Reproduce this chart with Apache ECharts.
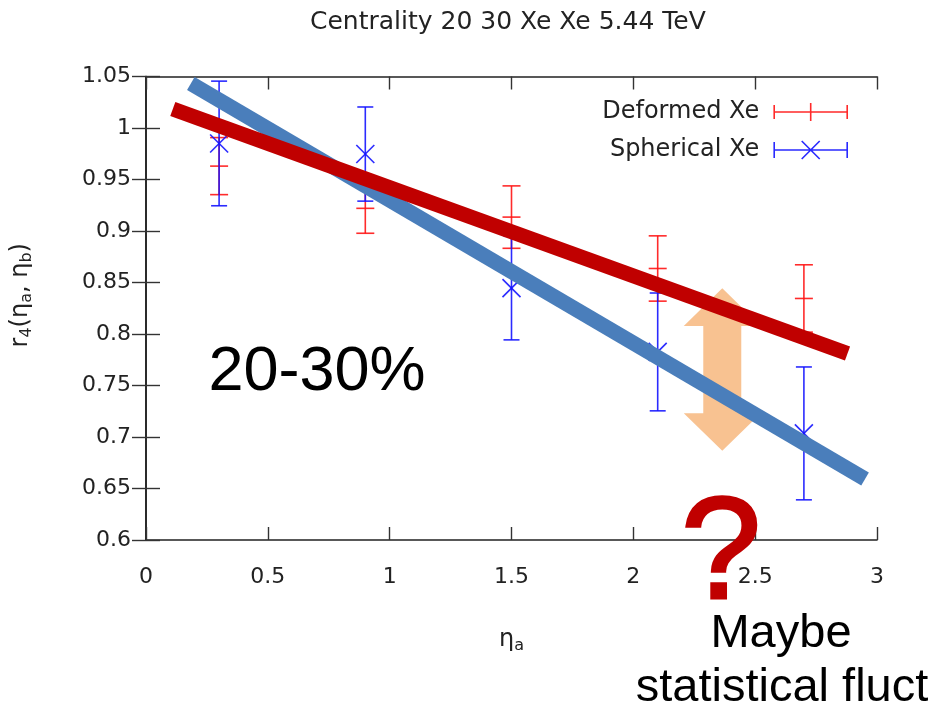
<!DOCTYPE html>
<html>
<head>
<meta charset="utf-8">
<script src="https://cdn.jsdelivr.net/npm/echarts@6/dist/echarts.min.js"></script>
<style>html,body{margin:0;padding:0;background:#fff}#chart{width:931px;height:711px}</style>
</head>
<body>
<div id="chart"></div>
<script>
// ---- data ----
const etaA = [0.3, 0.9, 1.5, 2.1, 2.7];
const deformedR4 = [0.963, 0.922, 0.9135, 0.8636, 0.8345];
const deformedErr = [0.0277, 0.0242, 0.0303, 0.0317, 0.0327];
const sphericalR4 = [0.985, 0.9747, 0.8446, 0.7826, 0.7035];
const sphericalErr = [0.0605, 0.0457, 0.0503, 0.0572, 0.0645];
// hand-drawn trend bands (endpoints in data units)
const deformedTrendX = [0.110, 2.879];
const deformedTrendY = [1.0184, 0.7811];
const sphericalTrendX = [0.184, 2.951];
const sphericalTrendY = [1.0432, 0.6592];
// double arrow: [x, topTip, bottomTip, topHeadBase, bottomHeadBase]
const arrowSpec = [2.365, 0.8444, 0.6867, 0.8078, 0.723];
const xTicks = [0, 0.5, 1, 1.5, 2, 2.5, 3];
const yTicks = [0.6, 0.65, 0.7, 0.75, 0.8, 0.85, 0.9, 0.95, 1, 1.05];

const chart = echarts.init(document.getElementById('chart'), null, {renderer: 'canvas'});
const SANS = 'DejaVu Sans';

function errData(xs, ys, es) {
  return xs.map((x, i) => [x, ys[i], ys[i] - es[i], ys[i] + es[i]]);
}
function errRenderer(kind, color) {
  return function (params, api) {
    const x = api.value(0), y = api.value(1), lo = api.value(2), hi = api.value(3);
    const pc = api.coord([x, y]), pl = api.coord([x, lo]), ph = api.coord([x, hi]);
    const cap = kind === 'plus' ? 9 : 8;
    const st = {stroke: color, lineWidth: 1.6};
    const ch = [
      {type: 'line', shape: {x1: pl[0], y1: pl[1], x2: ph[0], y2: ph[1]}, style: st},
      {type: 'line', shape: {x1: pl[0] - cap, y1: pl[1], x2: pl[0] + cap, y2: pl[1]}, style: st},
      {type: 'line', shape: {x1: ph[0] - cap, y1: ph[1], x2: ph[0] + cap, y2: ph[1]}, style: st}
    ];
    const m = 9;
    if (kind === 'plus') {
      ch.push({type: 'line', shape: {x1: pc[0] - m, y1: pc[1], x2: pc[0] + m, y2: pc[1]}, style: st});
    } else {
      ch.push({type: 'line', shape: {x1: pc[0] - m, y1: pc[1] - m, x2: pc[0] + m, y2: pc[1] + m}, style: st});
      ch.push({type: 'line', shape: {x1: pc[0] - m, y1: pc[1] + m, x2: pc[0] + m, y2: pc[1] - m}, style: st});
    }
    return {type: 'group', children: ch};
  };
}
function arrowRenderer(params, api) {
  const x = api.value(0);
  const t = api.coord([x, api.value(1)]);
  const b = api.coord([x, api.value(2)]);
  const hb1 = api.coord([x, api.value(3)]);
  const hb2 = api.coord([x, api.value(4)]);
  const cx = t[0], hw = 38.5, sw = 19;
  return {
    type: 'polygon',
    shape: {points: [
      [cx, t[1]], [cx + hw, hb1[1]], [cx + sw, hb1[1]], [cx + sw, hb2[1]], [cx + hw, hb2[1]],
      [cx, b[1]], [cx - hw, hb2[1]], [cx - sw, hb2[1]], [cx - sw, hb1[1]], [cx - hw, hb1[1]]
    ]},
    style: {fill: '#F8C291'}
  };
}

const axisLineStyle = {color: '#222', width: 1.6};
const tickStyle = {color: '#333', width: 1.4};
const nameRich = {
  n: {fontFamily: SANS, fontSize: 24, color: '#222', lineHeight: 28},
  s: {fontFamily: SANS, fontSize: 16, color: '#222', lineHeight: 28, verticalAlign: 'bottom', padding: [11, 0, 0, 0]}
};

const option = {
  backgroundColor: '#ffffff',
  animation: false,
  title: {
    text: 'Centrality 20 30 Xe Xe 5.44 TeV',
    left: 305, top: 5,
    textStyle: {fontFamily: SANS, fontSize: 25, fontWeight: 'normal', color: '#222'}
  },
  legend: {
    orient: 'vertical', right: 83, top: 100, padding: 0,
    align: 'right', itemWidth: 73, itemHeight: 18, itemGap: 14,
    textStyle: {fontFamily: SANS, fontSize: 24, color: '#222', padding: [0, 10, 0, 0], lineHeight: 24},
    data: [
      {name: 'Deformed Xe',
       icon: 'path://M0,9L73,9M0,2L0,16M73,2L73,16M36.5,0L36.5,18',
       itemStyle: {color: 'rgba(0,0,0,0)', borderColor: '#ff2a2a', borderWidth: 1.6}},
      {name: 'Spherical Xe',
       icon: 'path://M0,9L73,9M0,1L0,17M73,1L73,17M27.5,0L45.5,18M45.5,0L27.5,18',
       itemStyle: {color: 'rgba(0,0,0,0)', borderColor: '#2a2aff', borderWidth: 1.6}}
    ]
  },
  grid: {left: 143, right: 54, top: 76.5, bottom: 171, containLabel: false},
  xAxis: [
    {
      type: 'value', min: xTicks[0], max: xTicks[xTicks.length - 1], interval: 0.5,
      position: 'bottom',
      name: '{n|η}{s|a}', nameLocation: 'middle', nameGap: 86,
      nameTextStyle: {rich: nameRich},
      axisLine: {show: true, lineStyle: axisLineStyle},
      axisTick: {show: true, inside: true, length: 13, lineStyle: tickStyle},
      axisLabel: {fontFamily: SANS, fontSize: 22, color: '#222', margin: 26},
      splitLine: {show: false}
    },
    {
      type: 'value', min: xTicks[0], max: xTicks[xTicks.length - 1], interval: 0.5,
      position: 'top',
      axisLine: {show: true, lineStyle: axisLineStyle},
      axisTick: {show: true, inside: true, length: 13, lineStyle: tickStyle},
      axisLabel: {show: false}, splitLine: {show: false}
    }
  ],
  yAxis: [
    {
      type: 'value', min: yTicks[0], max: yTicks[yTicks.length - 1], interval: 0.05,
      position: 'left',
      name: '{n|r}{s|4}{n|(η}{s|a}{n|, η}{s|b}{n|)}', nameLocation: 'middle', nameGap: 111, nameRotate: 90,
      nameTextStyle: {padding: [0, 0, 0, 26], rich: nameRich},
      axisLine: {show: true, lineStyle: axisLineStyle},
      axisTick: {show: true, inside: true, length: 14, lineStyle: tickStyle},
      axisLabel: {fontFamily: SANS, fontSize: 22, color: '#222', margin: 15},
      splitLine: {show: false}
    },
    {
      type: 'value', min: yTicks[0], max: yTicks[yTicks.length - 1], interval: 0.05,
      position: 'right',
      axisLine: {show: true, lineStyle: axisLineStyle},
      axisTick: {show: true, inside: true, length: 14, lineStyle: tickStyle},
      axisLabel: {show: false}, splitLine: {show: false}
    }
  ],
  series: [
    {
      name: 'Deformed Xe', type: 'custom', xAxisIndex: 0, yAxisIndex: 0, z: 2,
      itemStyle: {color: '#ff2a2a'},
      renderItem: errRenderer('plus', 'rgba(255,20,20,0.9)'),
      encode: {x: 0, y: [1, 2, 3]},
      data: errData(etaA, deformedR4, deformedErr), clip: false
    },
    {
      name: 'Spherical Xe', type: 'custom', xAxisIndex: 0, yAxisIndex: 0, z: 2,
      itemStyle: {color: '#2a2aff'},
      renderItem: errRenderer('cross', 'rgba(20,20,255,0.9)'),
      encode: {x: 0, y: [1, 2, 3]},
      data: errData(etaA, sphericalR4, sphericalErr), clip: false
    },
    {
      name: 'arrow', type: 'custom', z: 3, silent: true,
      renderItem: arrowRenderer,
      encode: {x: 0, y: [1, 2, 3, 4]},
      data: [arrowSpec], clip: false
    },
    {
      name: 'Spherical trend', type: 'line', z: 4, symbol: 'none', clip: false, silent: true,
      lineStyle: {color: '#4A7EBB', width: 15, cap: 'butt'},
      data: sphericalTrendX.map((x, i) => [x, sphericalTrendY[i]])
    },
    {
      name: 'Deformed trend', type: 'line', z: 5, symbol: 'none', clip: false, silent: true,
      lineStyle: {color: '#C00000', width: 15, cap: 'butt'},
      data: deformedTrendX.map((x, i) => [x, deformedTrendY[i]])
    }
  ],
  graphic: [
    {type: 'text', x: 317, y: 373, z: 100,
     style: {text: '20-30%', font: '63px "Liberation Sans"', fill: '#000', align: 'center', verticalAlign: 'middle'}},
    {type: 'text', x: 721, y: 558, z: 100,
     style: {text: '?', font: '144px "Liberation Sans"', fill: '#C00000', stroke: '#C00000', lineWidth: 3,
             align: 'center', verticalAlign: 'middle'}},
    {type: 'text', x: 781, y: 634, z: 100,
     style: {text: 'Maybe', font: '47px "Liberation Sans"', fill: '#000', align: 'center', verticalAlign: 'middle'}},
    {type: 'text', x: 782, y: 688, z: 100,
     style: {text: 'statistical fluct', font: '47px "Liberation Sans"', fill: '#000', align: 'center', verticalAlign: 'middle'}}
  ]
};
chart.setOption(option);
</script>
</body>
</html>
